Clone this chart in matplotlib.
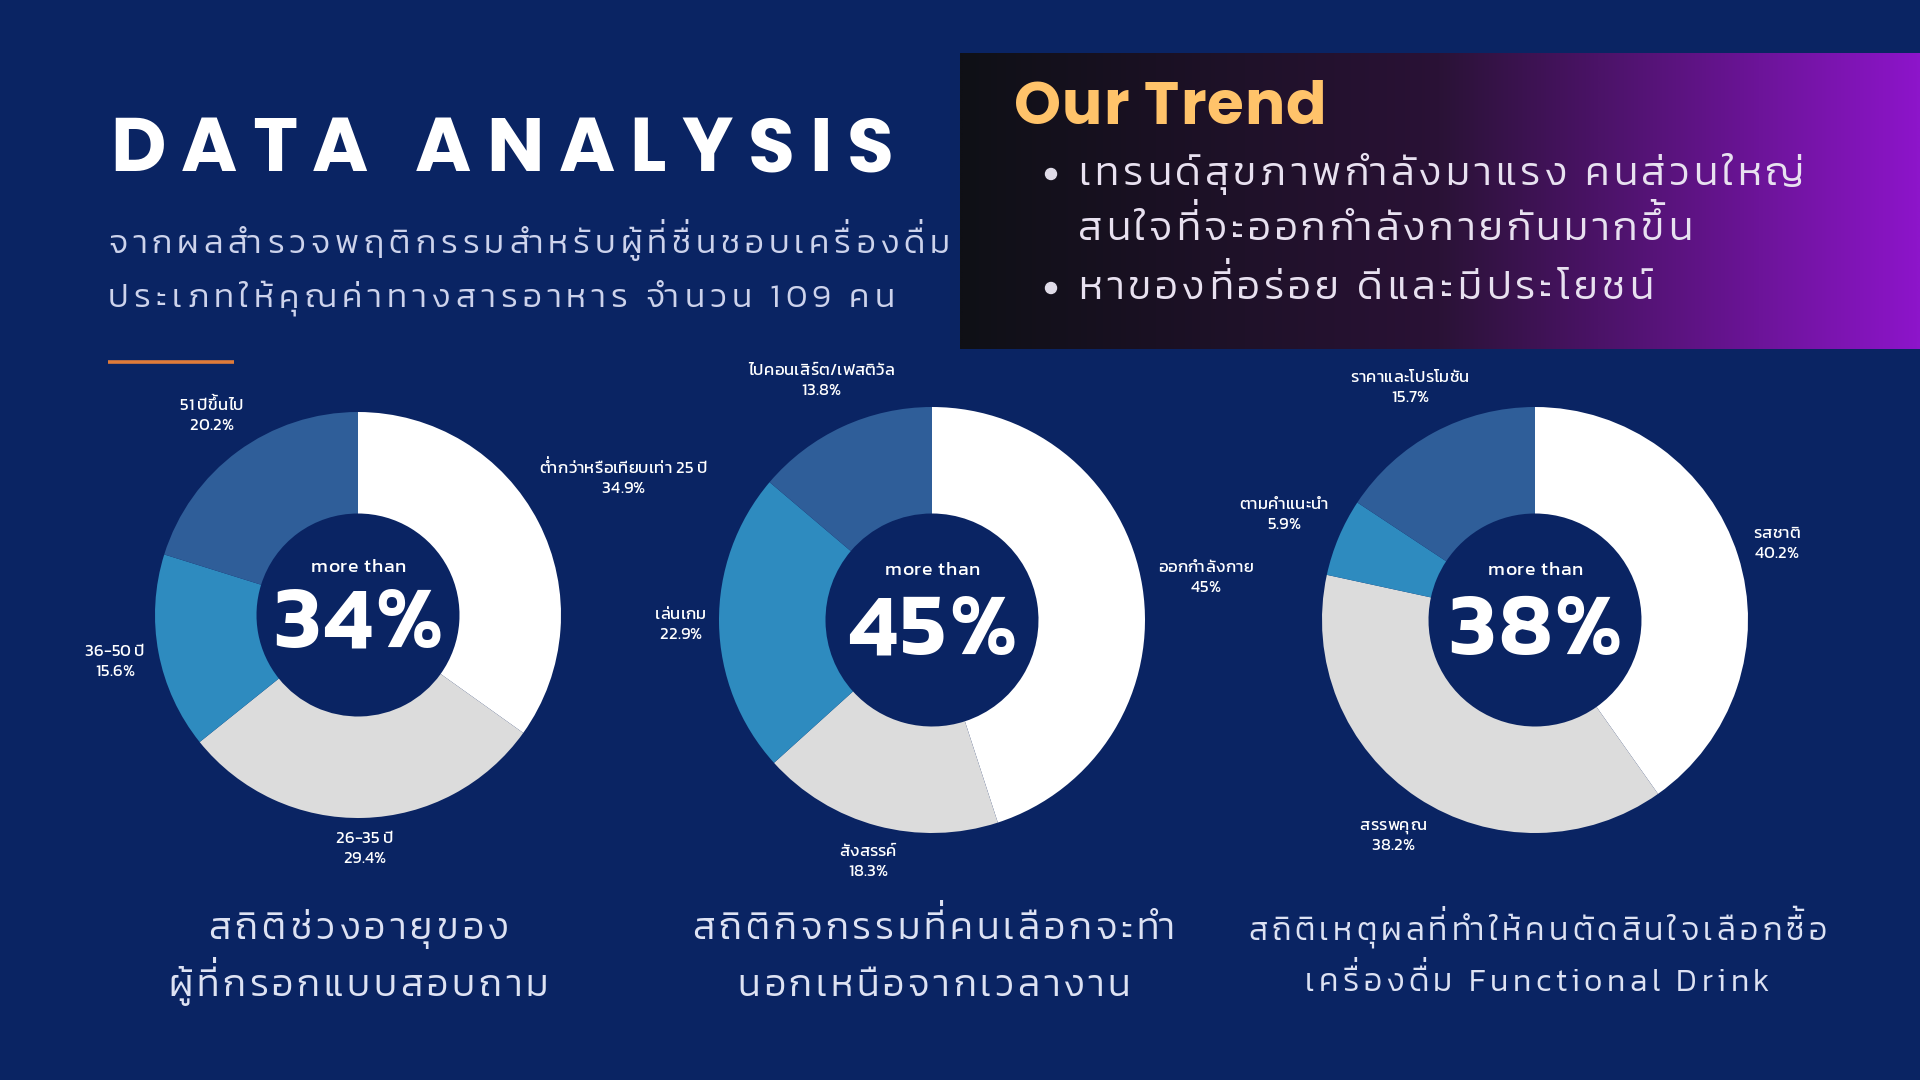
import numpy as np
import matplotlib
matplotlib.use('Agg')
import matplotlib.pyplot as plt
from matplotlib import font_manager as fm
from matplotlib.ft2font import FT2Font
from matplotlib.colors import LinearSegmentedColormap
from matplotlib.patches import Circle
try:
    from matplotlib.ft2font import LoadFlags
    NOH = LoadFlags.NO_HINTING
except Exception:
    from matplotlib.ft2font import LOAD_NO_HINTING as NOH

# ---------------- data ----------------
title = 'DATA ANALYSIS'
subtitle_lines = ['จากผลสำรวจพฤติกรรมสำหรับผู้ที่ชื่นชอบเครื่องดื่ม',
                  'ประเภทให้คุณค่าทางสารอาหาร จำนวน 109 คน']
trend_title = 'Our Trend'
trend_lines = ['เทรนด์สุขภาพกำลังมาแรง คนส่วนใหญ่',
               'สนใจที่จะออกกำลังกายกันมากขึ้น',
               'หาของที่อร่อย ดีและมีประโยชน์']

age_labels = ['ต่ำกว่าหรือเทียบเท่า 25 ปี', '26-35 ปี', '36-50 ปี', '51 ปีขึ้นไป']
age_values = [34.9, 29.4, 15.6, 20.2]
activity_labels = ['ออกกำลังกาย', 'สังสรรค์', 'เล่นเกม', 'ไปคอนเสิร์ต/เฟสติวัล']
activity_values = [45, 18.3, 22.9, 13.8]
reason_labels = ['รสชาติ', 'สรรพคุณ', 'ตามคำแนะนำ', 'ราคาและโปรโมชัน']
reason_values = [40.2, 38.2, 5.9, 15.7]

center_prefix = 'more than'
center_values = ['34%', '45%', '38%']
captions = [['สถิติช่วงอายุของ', 'ผู้ที่กรอกแบบสอบถาม'],
            ['สถิติกิจกรรมที่คนเลือกจะทำ', 'นอกเหนือจากเวลางาน'],
            ['สถิติเหตุผลที่ทำให้คนตัดสินใจเลือกซื้อ', 'เครื่องดื่ม Functional Drink']]

# ---------------- style ----------------
W, H = 1920, 1080
BG = '#0A2463'
SLICE_COLORS = ['#FFFFFF', '#DCDCDC', '#2E8BBF', '#2F5E99']
SUB_COLOR = '#CDD3EC'
CAP_COLOR = '#DDE2F3'
TREND_TXT = '#E8E1F0'

fig = plt.figure(figsize=(W / 100, H / 100), dpi=100, facecolor=BG)
bg = fig.add_axes([0, 0, 1, 1])
bg.set_xlim(0, W)
bg.set_ylim(H, 0)
bg.axis('off')
bg.set_facecolor(BG)

COMB = set([0x0E31, 0x0E33] + list(range(0x0E34, 0x0E3B)) + list(range(0x0E47, 0x0E4F)))
UPPER = set([0x0E31, 0x0E34, 0x0E35, 0x0E36, 0x0E37, 0x0E47])
TONES = set(range(0x0E48, 0x0E4D))


def _w(v):
    if isinstance(v, str):
        return fm.weight_dict.get(v, 400)
    return int(v)


_pick_cache = {}


def pick(families, weight):
    key = (tuple(families), weight)
    if key in _pick_cache:
        return _pick_cache[key]
    path = None
    for fam in families:
        cands = [f for f in fm.fontManager.ttflist
                 if f.name == fam and f.style == 'normal']
        if not cands:
            continue
        best = min(cands, key=lambda f: abs(_w(f.weight) - weight))
        if abs(_w(best.weight) - weight) <= 100:
            path = best.fname
            break
    if path is None:
        path = fm.findfont(fm.FontProperties(family=families[-1], weight=weight))
    _pick_cache[key] = path
    return path


def clusters(s):
    out = []
    for ch in s:
        if out and ord(ch) in COMB:
            out[-1] += ch
        else:
            out.append(ch)
    return out


_fonts = {}


def get_font(path):
    if path not in _fonts:
        _fonts[path] = FT2Font(path, hinting_factor=1)
    return _fonts[path]


def spaced(x, y, s, families=('Kanit',), weight=400, size=20, color='white',
           spacing=0.0, width=None, ha='left', raise_em=0.24, zorder=5):
    path = pick(list(families), weight)
    prop = fm.FontProperties(fname=path)
    f = get_font(path)
    f.set_size(size, 100)

    def adv(ch):
        return f.load_char(ord(ch), flags=NOH).linearHoriAdvance / 65536

    cl = clusters(s)
    advs = [sum(adv(ch) for ch in c) for c in cl]
    nat = sum(advs)
    if width is not None and len(cl) > 1:
        spacing = (width - nat) / (len(cl) - 1)
    total = nat + spacing * (len(cl) - 1)
    if ha == 'center':
        x0 = x - total / 2
    elif ha == 'right':
        x0 = x - total
    else:
        x0 = x
    em = size * 100 / 72
    sp_adv = adv(' ')
    xp = x0
    for c, a in zip(cl, advs):
        if c.strip():
            main = ''
            raised = []
            for i, ch in enumerate(c):
                prev_up = any(ord(p) in UPPER for p in c[:i])
                next_am = i + 1 < len(c) and ord(c[i + 1]) == 0x0E33
                if ord(ch) in TONES and (prev_up or next_am):
                    off = sum(adv(p) for p in c[:i])
                    raised.append((ch, off))
                else:
                    main += ch
            bg.text(xp, y, main, fontproperties=prop, fontsize=size, color=color,
                    ha='left', va='baseline', zorder=zorder)
            for ch, off in raised:
                # tone mark lifted above the upper vowel (no GPOS in matplotlib)
                bg.text(xp + off - sp_adv, y - raise_em * em, ' ' + ch,
                        fontproperties=prop, fontsize=size, color=color,
                        ha='left', va='baseline', zorder=zorder)
        xp += a + spacing
    return total


BOLD_LATIN = ('Montserrat', 'Poppins', 'Liberation Sans')

# ---------------- header ----------------
spaced(110, 171, title, families=BOLD_LATIN, weight=700, size=55,
       color='white', width=784)
spaced(108, 253, subtitle_lines[0], weight=300, size=24, color=SUB_COLOR, width=841)
spaced(108, 307, subtitle_lines[1], weight=300, size=24, color=SUB_COLOR, width=786)
bg.plot([108, 234], [362, 362], color='#E07B39', lw=2.6, solid_capstyle='butt', zorder=4)

# trend box with gradient
grad = np.linspace(0, 1, 512).reshape(1, -1)
cmap = LinearSegmentedColormap.from_list('g', ['#0F1016', '#2A1236', '#8D15CA'])
bg.imshow(grad, extent=[960, 1920, 349, 53], aspect='auto', cmap=cmap, zorder=1,
          interpolation='bilinear')
bg.set_xlim(0, W)
bg.set_ylim(H, 0)

spaced(1014, 124, trend_title, families=BOLD_LATIN, weight=700, size=43,
       color='#FFC36A', width=312)
trend_base = [185, 240, 299]
trend_w = [726, 614, 575]
for ln, yb, wd in zip(trend_lines, trend_base, trend_w):
    spaced(1078, yb, ln, weight=300, size=29, color=TREND_TXT, width=wd)
for yb in (trend_base[0], trend_base[2]):
    bg.add_patch(Circle((1051, yb - 11), 5.5, color='#E0DCE8', zorder=5))

# ---------------- donuts ----------------
charts = [
    dict(labels=age_labels, values=age_values, cx=358, cy=615, r=203,
         ld=[1.47, 1.15, 1.22, 1.22]),
    dict(labels=activity_labels, values=activity_values, cx=932, cy=620, r=213,
         ld=[1.30, 1.17, 1.18, 1.24]),
    dict(labels=reason_labels, values=reason_values, cx=1535, cy=620, r=213,
         ld=[1.19, 1.21, 1.28, 1.24]),
]

for k, ch in enumerate(charts):
    cx, cy, r = ch['cx'], ch['cy'], ch['r']
    ax = fig.add_axes([(cx - r) / W, (H - cy - r) / H, 2 * r / W, 2 * r / H])
    ax.pie(ch['values'], colors=SLICE_COLORS, startangle=90,
           counterclock=False, radius=1,
           wedgeprops=dict(width=0.5, linewidth=0))
    ax.set_xlim(-1, 1)
    ax.set_ylim(-1, 1)
    ax.axis('off')
    vals = np.array(ch['values'], dtype=float)
    cum = np.cumsum(vals) - vals / 2
    ang = np.deg2rad(90 - cum / vals.sum() * 360)
    for lab, v, a, d in zip(ch['labels'], vals, ang, ch['ld']):
        px = cx + d * r * np.cos(a)
        py = cy - d * r * np.sin(a)
        spaced(px, py - 5, lab, weight=400, size=12, color='white', ha='center', zorder=6)
        spaced(px, py + 15, f'{v:g}%', weight=400, size=12, color='white',
               ha='center', zorder=6)
    spaced(cx, cy - 0.21 * r, center_prefix, weight=400, size=14, color='white',
           width=95, ha='center')
    spaced(cx, cy + 0.16 * r, center_values[k], weight=600, size=64,
           color='white', spacing=3, ha='center')

# ---------------- captions ----------------
cap_x = [358, 934, 1537]
cap_specs = [
    [(939, 27, 300), (996, 27, 380)],
    [(939, 27, 483), (996, 27, 393)],
    [(940, 23, 578), (991, 23, 465)],
]
for x, lines, specs in zip(cap_x, captions, cap_specs):
    for ln, (yb, sz, wd) in zip(lines, specs):
        spaced(x, yb, ln, weight=300, size=sz, color=CAP_COLOR, width=wd, ha='center')

fig.savefig('out.png', dpi=100, facecolor=BG)
